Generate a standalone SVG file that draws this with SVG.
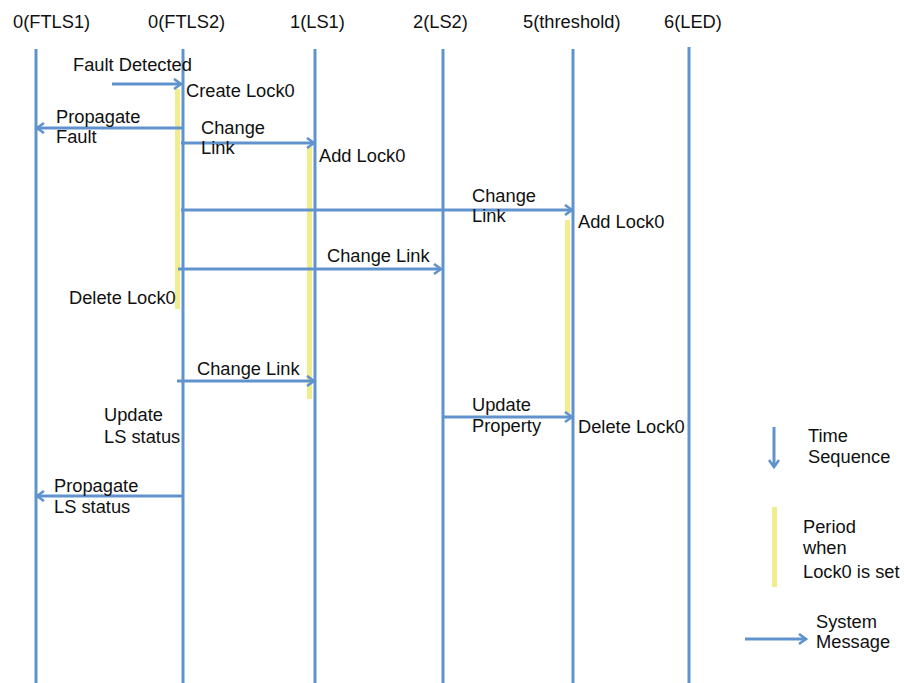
<svg xmlns="http://www.w3.org/2000/svg" width="904" height="683" viewBox="0 0 904 683">
  <style>
    text { font-family: "Liberation Sans", Arial, sans-serif; font-size: 18.3px; fill: #111; }
    .life { stroke: #6093cd; stroke-width: 3; fill: none; }
    .msg { stroke: #6093cd; stroke-width: 3; fill: none; marker-end: url(#head); }
    .lock { fill: #efee8c; }
  </style>
  <defs>
    <marker id="head" markerUnits="userSpaceOnUse" markerWidth="14" markerHeight="14" refX="9" refY="6" orient="auto">
      <path d="M2,1 L9,6 L2,11" fill="none" stroke="#6093cd" stroke-width="2.6"/>
    </marker>
  </defs>
  <rect width="904" height="683" fill="#ffffff"/>

  <!-- lock periods (drawn under the lifelines) -->
  <g id="lock-periods">
    <rect class="lock" x="175" y="89" width="5" height="220"/>
    <rect class="lock" x="307" y="147" width="5" height="252"/>
    <rect class="lock" x="565" y="220" width="5" height="193"/>
  </g>

  <!-- lifelines -->
  <g id="ftls1">
    <text x="13" y="28">0(FTLS1)</text>
    <line class="life" x1="36" y1="49" x2="36" y2="683"/>
  </g>
  <g id="ftls2">
    <text x="148" y="28">0(FTLS2)</text>
    <line class="life" x1="183" y1="49" x2="183" y2="683"/>
  </g>
  <g id="ls1">
    <text x="290" y="28">1(LS1)</text>
    <line class="life" x1="315" y1="49" x2="315" y2="683"/>
  </g>
  <g id="ls2">
    <text x="413" y="28">2(LS2)</text>
    <line class="life" x1="443" y1="49" x2="443" y2="683"/>
  </g>
  <g id="threshold">
    <text x="523" y="28">5(threshold)</text>
    <line class="life" x1="573" y1="49" x2="573" y2="683"/>
  </g>
  <g id="led">
    <text x="664" y="28">6(LED)</text>
    <line class="life" x1="689" y1="47" x2="689" y2="683"/>
  </g>

  <!-- messages -->
  <g id="connectors">
    <line class="msg" x1="112" y1="84" x2="181" y2="84"/>
    <line class="msg" x1="183" y1="128" x2="37" y2="128"/>
    <line class="msg" x1="181" y1="143" x2="314" y2="143"/>
    <line class="msg" x1="181" y1="210" x2="572" y2="210"/>
    <line class="msg" x1="178" y1="269" x2="441" y2="269"/>
    <line class="msg" x1="177" y1="381" x2="314" y2="381"/>
    <line class="msg" x1="443" y1="417" x2="572" y2="417"/>
    <line class="msg" x1="182" y1="496" x2="37" y2="496"/>
  </g>

  <!-- message and state labels -->
  <g id="labels">
    <text x="73" y="71">Fault Detected</text>
    <text x="186" y="97">Create Lock0</text>
    <text x="56" y="123">Propagate</text>
    <text x="56" y="143">Fault</text>
    <text x="201" y="134">Change</text>
    <text x="201" y="154">Link</text>
    <text x="319" y="162">Add Lock0</text>
    <text x="472" y="202">Change</text>
    <text x="472" y="222">Link</text>
    <text x="578" y="228">Add Lock0</text>
    <text x="327" y="262">Change Link</text>
    <text x="69" y="304">Delete Lock0</text>
    <text x="197" y="375">Change Link</text>
    <text x="104" y="421">Update</text>
    <text x="104" y="443">LS status</text>
    <text x="472" y="411">Update</text>
    <text x="472" y="432">Property</text>
    <text x="578" y="433">Delete Lock0</text>
    <text x="54" y="492">Propagate</text>
    <text x="54" y="513">LS status</text>
  </g>

  <!-- legend -->
  <g id="legend-time">
    <line class="msg" x1="774" y1="427" x2="774" y2="467"/>
    <text x="808" y="442">Time</text>
    <text x="808" y="463">Sequence</text>
  </g>
  <g id="legend-lock">
    <rect class="lock" x="772" y="507" width="5" height="80"/>
    <text x="803" y="533">Period</text>
    <text x="803" y="554">when</text>
    <text x="803" y="578">Lock0 is set</text>
  </g>
  <g id="legend-message">
    <line class="msg" x1="745" y1="639" x2="806" y2="639"/>
    <text x="816" y="628">System</text>
    <text x="816" y="648">Message</text>
  </g>
</svg>
